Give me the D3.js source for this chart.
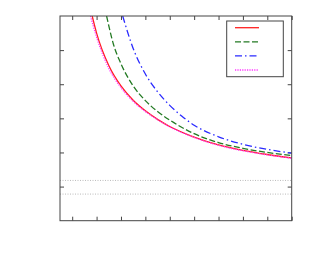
<!DOCTYPE html>
<html>
<head>
<meta charset="utf-8">
<script src="https://cdn.jsdelivr.net/npm/d3@7"></script>
<style>
  body { margin: 0; background: #fff; }
  .tick line { stroke: #444; }
</style>
</head>
<body>
<div id="chart"></div>
<script>
// tick values (no labels in the original)
var xTicks = [1, 2, 3, 4, 5, 6, 7, 8, 9, 10];
var yTicks = [1, 2, 3, 4, 5];
var refLines = [1.18, 0.78];

// series
var redX = [1.82, 2.0, 2.5, 3.0, 3.5, 4.0, 4.5, 5.0, 6.0, 7.0, 8.0, 9.0, 10.0];
var redY = [6.0, 5.5, 4.55, 3.95, 3.53, 3.22, 2.97, 2.76, 2.45, 2.22, 2.06, 1.94, 1.84];

var greenX = [2.41, 2.7, 3.0, 3.5, 4.0, 4.5, 5.0, 6.0, 7.0, 8.0, 9.0, 10.0];
var greenY = [6.0, 5.15, 4.6, 3.95, 3.52, 3.2, 2.95, 2.55, 2.29, 2.12, 2.0, 1.91];

var blueX = [3.07, 3.5, 4.0, 4.5, 5.0, 5.5, 6.0, 7.0, 8.0, 9.0, 10.0];
var blueY = [6.0, 5.05, 4.3, 3.78, 3.38, 3.06, 2.8, 2.46, 2.24, 2.09, 1.98];

var magX = [1.75, 2.0, 2.5, 3.0, 3.5, 4.0, 4.5, 5.0, 6.0, 7.0, 8.0, 9.0, 10.0];
var magY = [6.0, 5.38, 4.47, 3.9, 3.5, 3.2, 2.96, 2.75, 2.44, 2.21, 2.05, 1.93, 1.83];

var series = [
    {xs: redX, ys: redY, color: '#ff2020', dash: null},
    {xs: greenX, ys: greenY, color: '#237a23', dash: '6,2.5'},
    {xs: blueX, ys: blueY, color: '#2a2aff', dash: '7,3,1.5,3'},
    {xs: magX, ys: magY, color: '#ff33ff', dash: '1.2,1.2'}
];

var W = 313, H = 263;
var margin = {top: 16, right: 21.3, bottom: 42.3, left: 60},
    width = W - margin.left - margin.right,
    height = H - margin.top - margin.bottom;

var svg = d3.select('#chart').append('svg')
        .attr('width', W)
        .attr('height', H),
    g = svg.append('g')
        .attr('transform', 'translate(' + margin.left + ',' + margin.top + ')');

var x = d3.scaleLinear().domain([0.5, 10]).range([0, width]);
var y = d3.scaleLinear().domain([0, 6]).range([height, 0]);

g.append('clipPath').attr('id', 'clip')
    .append('rect').attr('width', width).attr('height', height);

// dotted reference lines
g.selectAll('.ref')
    .data(refLines)
    .enter().append('line')
    .attr('class', 'ref')
    .attr('x1', 0).attr('x2', width)
    .attr('y1', function(d) { return y(d); })
    .attr('y2', function(d) { return y(d); })
    .attr('stroke', '#aaa')
    .attr('stroke-width', 0.8)
    .attr('stroke-dasharray', '1,1.5');

// inward ticks on all four sides
function ticksOff(a) { a.select('.domain').remove(); }
g.append('g').attr('transform', 'translate(0,' + height + ')')
    .call(d3.axisBottom(x).tickValues(xTicks).tickSize(-4).tickFormat('')).call(ticksOff);
g.append('g')
    .call(d3.axisTop(x).tickValues(xTicks).tickSize(-4).tickFormat('')).call(ticksOff);
g.append('g')
    .call(d3.axisLeft(y).tickValues(yTicks).tickSize(-4).tickFormat('')).call(ticksOff);
g.append('g').attr('transform', 'translate(' + width + ',0)')
    .call(d3.axisRight(y).tickValues(yTicks).tickSize(-4).tickFormat('')).call(ticksOff);

var line = d3.line()
    .curve(d3.curveMonotoneX)
    .x(function(d) { return x(d[0]); })
    .y(function(d) { return y(d[1]); });

series.forEach(function(s) {
    var pts = s.xs.map(function(v, i) { return [v, s.ys[i]]; });
    g.append('path')
        .attr('clip-path', 'url(#clip)')
        .attr('d', line(pts))
        .attr('fill', 'none')
        .attr('stroke', s.color)
        .attr('stroke-width', 1.3)
        .attr('stroke-dasharray', s.dash);
});

// frame
g.append('rect')
    .attr('width', width).attr('height', height)
    .attr('fill', 'none')
    .attr('stroke', '#444')
    .attr('stroke-width', 1);

// legend (no labels)
var lg = g.append('g').attr('transform', 'translate(' + (width - 65) + ',5)');
lg.append('rect')
    .attr('width', 56.6).attr('height', 55.7)
    .attr('fill', '#fff')
    .attr('stroke', '#444');
lg.selectAll('.leg')
    .data(series)
    .enter().append('line')
    .attr('x1', 8.3).attr('x2', 32.3)
    .attr('y1', function(d, i) { return 6.7 + i * 14.1; })
    .attr('y2', function(d, i) { return 6.7 + i * 14.1; })
    .attr('stroke', function(d) { return d.color; })
    .attr('stroke-width', 1.3)
    .attr('stroke-dasharray', function(d) { return d.dash; });
</script>
</body>
</html>
